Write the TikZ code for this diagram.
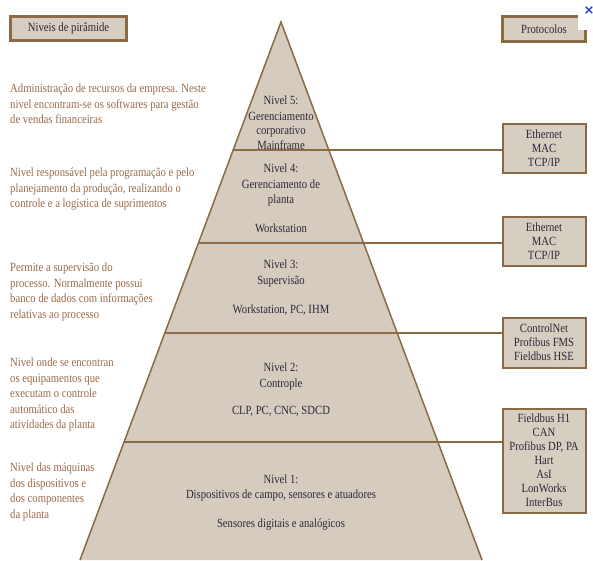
\documentclass[tikz,border=0pt]{standalone}
\usepackage{fontspec}
\setmainfont{Liberation Serif}[FakeStretch=0.855]
\newfontfamily\symfont{DejaVu Sans}
\definecolor{pyrfill}{HTML}{D5CCBF}
\definecolor{brownline}{HTML}{8B6A46}
\definecolor{lefttext}{HTML}{9A6A4A}
\definecolor{darktext}{HTML}{2E2736}
\definecolor{boxfill}{HTML}{D6CEC1}
\definecolor{xblue}{HTML}{1E3FD0}
\begin{document}
\begin{tikzpicture}[x=1pt,y=-1pt,
  desc/.style={anchor=north west,inner sep=0pt,align=left,text=lefttext,font=\fontsize{12.5}{15.5}\selectfont},
  lvl/.style={anchor=north,inner sep=0pt,align=center,text=darktext,font=\fontsize{12.5}{15.5}\selectfont},
  protobox/.style={draw=brownline,line width=2pt,fill=boxfill,minimum width=83pt,inner sep=0pt,align=center,text=darktext,font=\fontsize{12.5}{14}\selectfont},
  headbox/.style={draw=brownline,line width=2.2pt,fill=boxfill,inner sep=0pt,text=darktext,font=\fontsize{12.5}{14}\selectfont},
  sepline/.style={draw=brownline,line width=2.2pt},
  edge/.style={draw=brownline,line width=1.5pt}]
\useasboundingbox (0,0) rectangle (593,560);
\fill[white] (0,0) rectangle (593,560);

% headers
\node[headbox,minimum width=116pt,minimum height=24pt] (hleft) at (68.5,28.5) {Niveis de pirâmide};
\node[headbox,minimum width=83pt,minimum height=25pt] (hright) at (544,29) {Protocolos};
\fill[white] (577.5,0) rectangle (593,30);
\node[inner sep=0pt,text=xblue,font=\symfont\bfseries\fontsize{13}{13}\selectfont] (closex) at (589,11) {×};

% pyramid
\coordinate (apex) at (281,22);
\coordinate (bl) at (80,560);
\coordinate (br) at (482,560);
\fill[pyrfill] (apex) -- (br) -- (bl) -- cycle;

% protocol boxes
\node[protobox,minimum height=49pt] (b1) at (544,148) {Ethernet\\MAC\\TCP/IP};
\node[protobox,minimum height=49pt] (b2) at (544,241) {Ethernet\\MAC\\TCP/IP};
\node[protobox,minimum height=50pt] (b3) at (544,342.5) {ControlNet\\Profibus FMS\\Fieldbus HSE};
\node[protobox,minimum height=104pt] (b4) at (544,460.5) {Fieldbus H1\\CAN\\Profibus DP, PA\\Hart\\AsI\\LonWorks\\InterBus};

% separators and connectors
\coordinate (s1) at (233.1,150);
\coordinate (s2) at (198.3,243);
\coordinate (s3) at (164.7,333);
\coordinate (s4) at (123.9,442);
\draw[sepline] (s1) -- (s1 -| b1.west);
\draw[sepline] (s2) -- (s2 -| b2.west);
\draw[sepline] (s3) -- (s3 -| b3.west);
\draw[sepline] (s4) -- (s4 -| b4.west);

\draw[edge] (bl) -- (apex) -- (br);

% level texts
\node[lvl] (n5) at (281,96) {Nivel 5:\\Gerenciamento\\[-1pt]corporativo\\[-1pt]Mainframe};
\node[lvl] (n4) at (281,164) {Nivel 4:\\Gerenciamento de\\planta\\[13pt]Workstation};
\node[lvl] (n3) at (281,260) {Nivel 3:\\Supervisão\\[14pt]Workstation, PC, IHM};
\node[lvl] (n2) at (281,363) {Nivel 2:\\Controple\\[12pt]CLP, PC, CNC, SDCD};
\node[lvl] (n1) at (281,474.5) {Nivel 1:\\Dispositivos de campo, sensores e atuadores\\[13pt]Sensores digitais e analógicos};

% left descriptions
\node[desc] (d5) at (10,84) {Administração de recursos da empresa. Neste\\nivel encontram-se os softwares para gestão\\de vendas financeiras};
\node[desc] (d4) at (10,168) {Nivel responsável pela programação e pelo\\planejamento da produção, realizando o\\controle e a logistica de suprimentos};
\node[desc] (d3) at (10,263) {Permite a supervisão do\\processo. Normalmente possui\\banco de dados com informações\\relativas ao processo};
\node[desc] (d2) at (10,358) {Nivel onde se encontran\\os equipamentos que\\executam o controle\\automático das\\atividades da planta};
\node[desc] (d1) at (10,463) {Nivel das máquinas\\dos dispositivos e\\dos componentes\\da planta};
\end{tikzpicture}
\end{document}
